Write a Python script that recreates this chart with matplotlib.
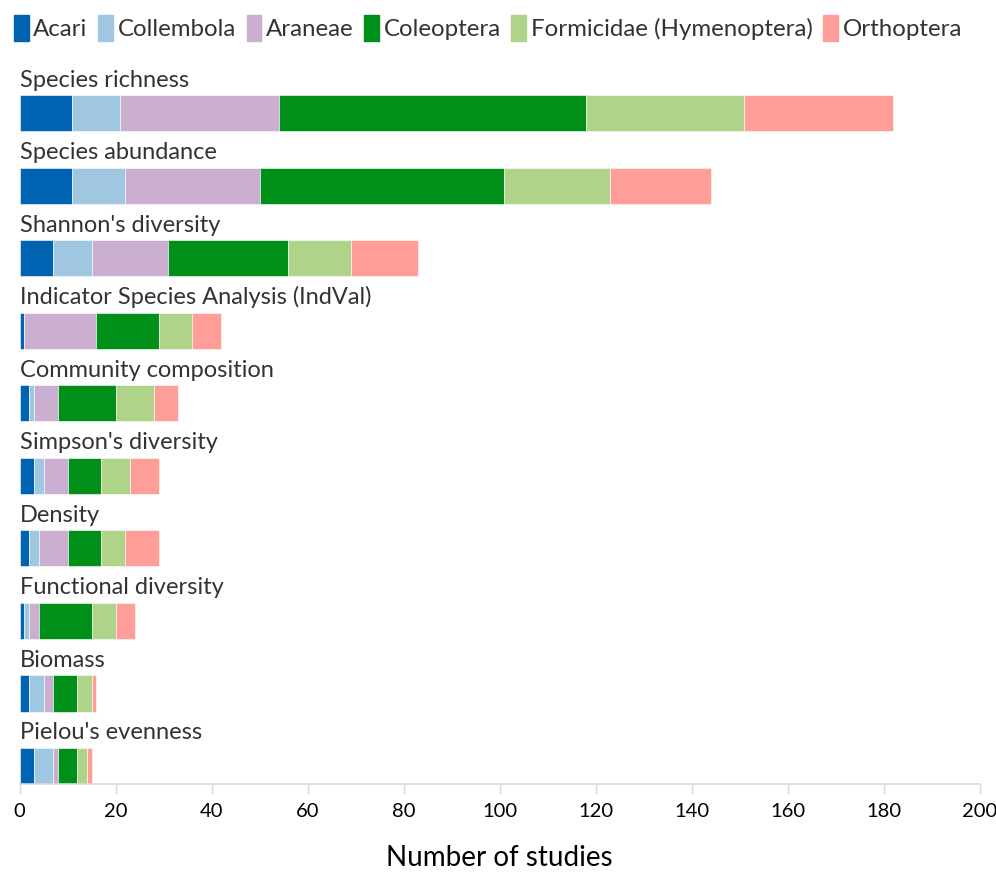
import numpy as np
import matplotlib
matplotlib.use('Agg')
import matplotlib.pyplot as plt
from matplotlib.patches import Patch

metrics = ['Species richness', 'Species abundance', "Shannon's diversity",
           'Indicator Species Analysis (IndVal)', 'Community composition',
           "Simpson's diversity", 'Density', 'Functional diversity',
           'Biomass', "Pielou's evenness"]

taxa = ['Acari', 'Collembola', 'Araneae', 'Coleoptera',
        'Formicidae (Hymenoptera)', 'Orthoptera']

acari = [11, 11, 7, 1, 2, 3, 2, 1, 2, 3]
collembola = [10, 11, 8, 0, 1, 2, 2, 1, 3, 4]
araneae = [33, 28, 16, 15, 5, 5, 6, 2, 2, 1]
coleoptera = [64, 51, 25, 13, 12, 7, 7, 11, 5, 4]
formicidae = [33, 22, 13, 7, 8, 6, 5, 5, 3, 2]
orthoptera = [31, 21, 14, 6, 5, 6, 7, 4, 1, 1]

colors = ['#0063B1', '#A0C7E2', '#CBAFD0', '#008F18', '#AED389', '#FF9E99']

series = [acari, collembola, araneae, coleoptera, formicidae, orthoptera]

plt.rcParams['font.family'] = ['Lato', 'DejaVu Sans']

fig = plt.figure(figsize=(9.96, 8.77), dpi=100)
ax = fig.add_axes([0.0196, 0.106, 0.964, 0.827])

y = np.arange(len(metrics))
left = np.zeros(len(metrics))
for vals, col, name in zip(series, colors, taxa):
    ax.barh(y, vals, left=left, height=0.5, color=col, edgecolor='white',
            linewidth=0.4, label=name)
    left += np.array(vals)

for i, m in enumerate(metrics):
    ax.text(0, i - 0.31, m, fontsize=17, color='#333333', ha='left', va='bottom')

ax.set_ylim(9.25, -0.75)
ax.set_xlim(0, 200)
ax.set_xticks(np.arange(0, 201, 20))
ax.set_yticks([])
for s in ['top', 'right', 'left']:
    ax.spines[s].set_visible(False)
ax.spines['bottom'].set_color('#d9d9d9')
ax.spines['bottom'].set_linewidth(1.2)
ax.tick_params(axis='x', colors='#d9d9d9', labelcolor='black', labelsize=14.5,
               length=7, width=1, pad=7)
ax.set_xlabel('Number of studies', fontsize=20, labelpad=18)

handles = [Patch(facecolor=c, edgecolor=c, label=t) for c, t in zip(colors, taxa)]
fig.legend(handles=handles, loc='upper center', bbox_to_anchor=(0.49, 1.008),
           ncol=6, frameon=False, fontsize=17.3, handlelength=0.6,
           handleheight=1.3, handletextpad=0.2, columnspacing=0.45,
           labelcolor='#333333')

fig.savefig('out.png', dpi=100)
